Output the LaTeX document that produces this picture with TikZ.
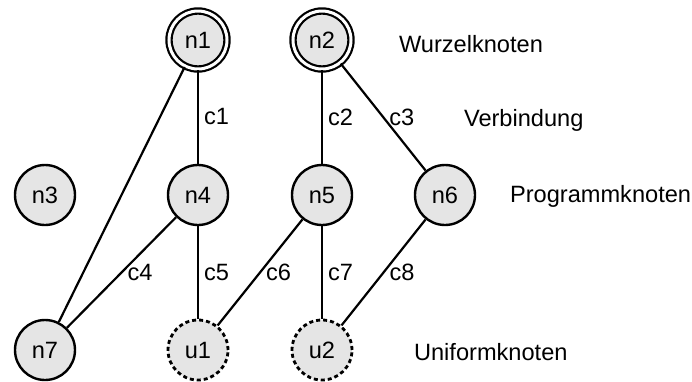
\documentclass[tikz,border=0pt]{standalone}
\usepackage{fontspec}
\setmainfont{Liberation Sans}

\tikzset{
		knoten/.style={circle,draw,line width=1.2pt,fill=gray!20,minimum size=30pt,inner sep=0pt},
		wurzel/.style={knoten,double,double distance=1.5pt,line width=1.1pt,minimum size=29pt},
		uniform/.style={knoten,line width=1.4pt,dash pattern=on 2pt off 1.5pt},
		kante/.style={line width=1.1pt},
		marke/.style={right,inner sep=2.5pt},
		legende/.style={anchor=west}
	}

\begin{document}
\begin{tikzpicture}[x=0.5pt,y=-0.5pt,font=\fontsize{11.8}{14}\selectfont]
	\useasboundingbox (0,0) rectangle (692,381);
	% Knoten
	\node[wurzel] (n1) at (198,40) {n1};
	\node[wurzel] (n2) at (322,40) {n2};
	\node[knoten] (n3) at (45,195) {n3};
	\node[knoten] (n4) at (198,195) {n4};
	\node[knoten] (n5) at (322,195) {n5};
	\node[knoten] (n6) at (445,195) {n6};
	\node[knoten] (n7) at (45,350) {n7};
	\node[uniform] (u1) at (198,350) {u1};
	\node[uniform] (u2) at (322,350) {u2};
	% Verbindungen
	\draw[kante] (n1) -- node[marke] {c1} (n4);
	\draw[kante] (n1) -- (n7);
	\draw[kante] (n2) -- node[marke] {c2} (n5);
	\draw[kante] (n2) -- node[marke] {c3} (n6);
	\draw[kante] (n4) -- node[marke] {c4} (n7);
	\draw[kante] (n4) -- node[marke] {c5} (u1);
	\draw[kante] (n5) -- node[marke] {c6} (u1);
	\draw[kante] (n5) -- node[marke] {c7} (u2);
	\draw[kante] (n6) -- node[marke] {c8} (u2);
	% Legende
	\node[legende] (lw) at (392,44) {Wurzelknoten};
	\node[legende] (lv) at (457,120) {Verbindung};
	\node[legende] (lp) at (503,196) {Programmknoten};
	\node[legende] (lu) at (407,352) {Uniformknoten};
\end{tikzpicture}
\end{document}
